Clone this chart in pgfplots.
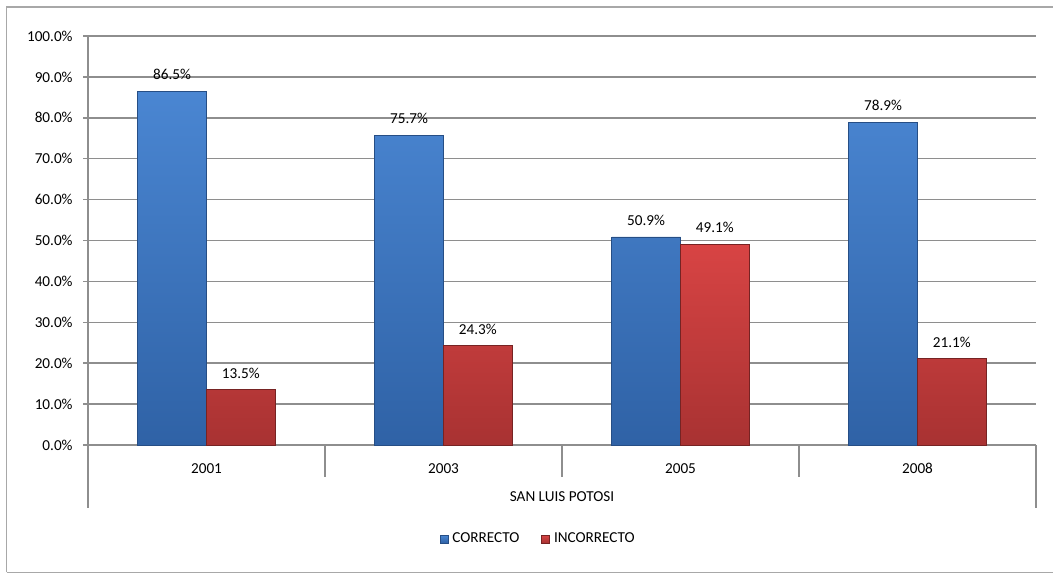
\documentclass[border=0pt]{standalone}
\usepackage{fontspec}
\setmainfont{Carlito}
\usepackage{pgfplots}
\pgfplotsset{compat=1.18}

\definecolor{gridc}{HTML}{8E8E8E}
\definecolor{framec}{HTML}{A8A8A8}
\definecolor{blueT}{HTML}{4A86D2}
\definecolor{blueB}{HTML}{2F62A6}
\definecolor{redT}{HTML}{D84444}
\definecolor{redB}{HTML}{A83232}

\begin{document}
\fontsize{7.6}{9}\selectfont
\begin{tikzpicture}
  % whole picture: 1 px of the reference = 0.5pt, origin bottom left
  \useasboundingbox (0pt,0pt) rectangle (526.5pt,286.5pt);
  \draw[framec, line width=0.7pt] (3.25pt,0.4pt) -- (3.25pt,283pt) -- (526.5pt,283pt);
  \draw[framec, line width=0.7pt] (3.25pt,0.4pt) -- (526.5pt,0.4pt);

  \begin{axis}[
      at={(44pt,64pt)}, anchor=south west,
      scale only axis,
      width=474pt, height=204.5pt,
      ybar, ymin=0, ymax=100,
      xmin=-0.5, xmax=3.5,
      xtick={0,1,2,3},
      xticklabels={2001,2003,2005,2008},
      ytick={0,10,...,100},
      yticklabel={\pgfmathprintnumber[fixed,fixed zerofill,precision=1]{\tick}\%},
      /pgf/number format/assume math mode=true,
      axis x line*=bottom, axis y line*=left,
      axis line style={gridc, line width=0.8pt, -},
      ymajorgrids, grid style={gridc, line width=0.8pt},
      x tick style={draw=none},
      y tick style={gridc, line width=0.8pt},
      tick align=outside,
      major tick length=2.5pt,
      yticklabel style={anchor=east, inner sep=0pt, xshift=-5pt},
      xticklabel style={anchor=north, inner sep=0pt, yshift=-6.5pt},
      bar width=0.29,
      nodes near coords={\pgfmathprintnumber[fixed,fixed zerofill,precision=1]{\pgfplotspointmeta}\%},
      every node near coord/.append style={font=\fontsize{7.6}{9}\selectfont, black, yshift=3pt},
      clip=false,
      legend style={at={(0.476,-0.23)}, anchor=center, draw=none,
        legend columns=2, font=\fontsize{7.6}{9}\selectfont,
        /tikz/every even column/.append style={column sep=9pt}},
      legend image code/.code={\path[#1] (0pt,-2pt) rectangle (4pt,2pt);},
    ]
    \addplot[bar shift=-0.145, draw=blueB!80!black, line width=0.3pt,
      top color=blueT, bottom color=blueB]
      coordinates {(0,86.5) (1,75.7) (2,50.9) (3,78.9)};
    \addplot[bar shift=0.145, draw=redB!70!black, line width=0.3pt,
      top color=redT, bottom color=redB]
      coordinates {(0,13.5) (1,24.3) (2,49.1) (3,21.1)};
    \legend{CORRECTO,INCORRECTO}

    % category separators below the axis
    \draw[gridc, line width=0.8pt] (axis cs:0.5,0) -- ++(0pt,-16pt);
    \draw[gridc, line width=0.8pt] (axis cs:1.5,0) -- ++(0pt,-16pt);
    \draw[gridc, line width=0.8pt] (axis cs:2.5,0) -- ++(0pt,-16pt);
    \draw[gridc, line width=0.8pt] (axis cs:-0.5,0) -- ++(0pt,-31.5pt);
    \draw[gridc, line width=0.8pt] (axis cs:3.5,0) -- ++(0pt,-31.5pt);
    \node[font=\fontsize{7.6}{9}\selectfont] at ([yshift=-26pt]axis cs:1.5,0) {SAN LUIS POTOSI};
  \end{axis}
\end{tikzpicture}
\end{document}
